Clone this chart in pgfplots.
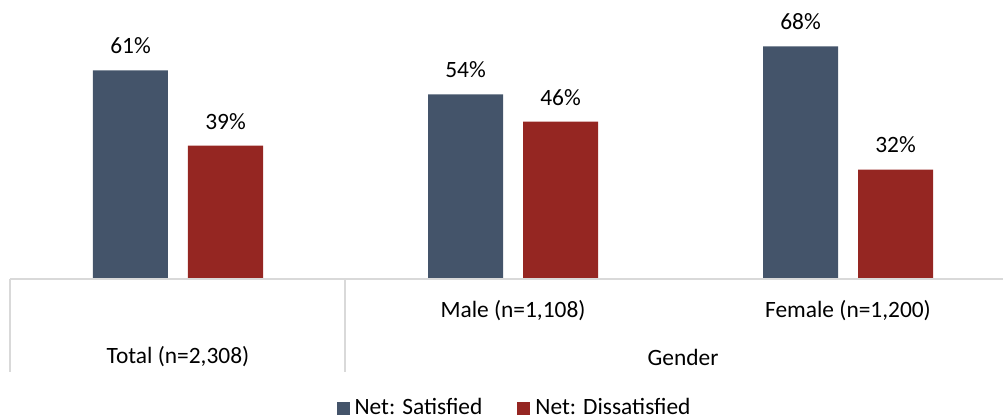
\documentclass[border=0pt]{standalone}
\usepackage{pgfplots}
\pgfplotsset{compat=1.18}
\usepackage{fontspec}
\setmainfont{Carlito}
\definecolor{sat}{HTML}{44546A}
\definecolor{dis}{HTML}{952622}
\definecolor{gridg}{HTML}{D9D9D9}
\begin{document}
\fontsize{11.7}{14}\selectfont
\begin{tikzpicture}
\begin{axis}[
  scale only axis,
  width=496.5pt, height=139.5pt,
  xmin=-0.50149, xmax=2.4627,
  ymin=0, ymax=81.6,
  axis line style={draw=none},
  ticks=none,
  clip=false,
  ybar, bar width=37.5pt,
  nodes near coords={\pgfmathprintnumber[assume math mode=true]{\pgfplotspointmeta}\%},
  every node near coord/.append style={font=\fontsize{11.7}{14}\selectfont, text=black, anchor=south, inner sep=0pt, yshift=8pt},
  legend columns=2,
  legend style={at={(0.5086,-0.4624)}, anchor=center, draw=none, fill=none,
    font=\fontsize{11.7}{14}\selectfont,
    /tikz/every even column/.append style={column sep=16pt},
    nodes={inner sep=1.5pt}},
  legend image code/.code={\fill[#1] (0pt,-3.25pt) rectangle (6.5pt,3.25pt); \path (7.5pt,0pt);},
]
\addplot[draw=none, fill=sat, bar shift=-23.75pt] coordinates {(0,61) (1,54) (2,68)};
\addlegendentry{Net: Satisfied}
\addplot[draw=none, fill=dis, bar shift=23.75pt] coordinates {(0,39) (1,46) (2,32)};
\addlegendentry{Net: Dissatisfied}
\draw[gridg, line width=1pt] (axis cs:-0.50149,0) -- (axis cs:2.4627,0);
\draw[gridg, line width=1pt] (axis cs:-0.50149,0) -- (axis cs:-0.50149,-27.2);
\draw[gridg, line width=1pt] (axis cs:0.4985,0) -- (axis cs:0.4985,-27.2);
\node at (axis cs:1,-9.36) {Male (n=1,108)};
\node at (axis cs:2,-9.36) {Female (n=1,200)};
\node at (axis cs:0,-22.8) {Total (n=2,308)};
\node at (axis cs:1.5075,-22.8) {Gender};
\coordinate (bl) at (rel axis cs:0,0);
\coordinate (tr) at (rel axis cs:1,1);
\end{axis}
\pgfresetboundingbox
\path[use as bounding box] ([shift={(-5pt,-69.5pt)}]bl) rectangle (tr);
\end{tikzpicture}
\end{document}
